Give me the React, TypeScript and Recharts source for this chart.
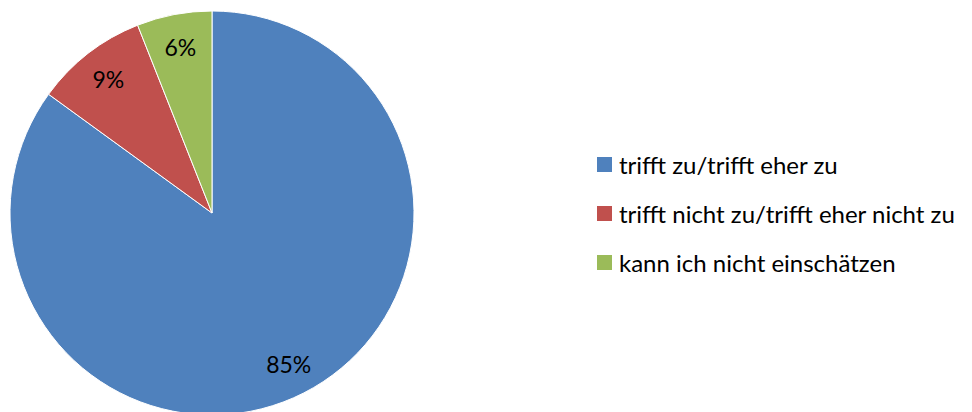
import React from "react";
import { PieChart, Pie, Cell, Legend } from "recharts";

const categories = [
  "trifft zu/trifft eher zu",
  "trifft nicht zu/trifft eher nicht zu",
  "kann ich nicht einschätzen",
];
const values = [85, 9, 6];
const colors = ["#4F81BD", "#C0504D", "#9BBB59"];

const data = categories.map((name, i) => ({ name, value: values[i] }));

const FONT = "Lato, 'Open Sans', sans-serif";
const RAD = Math.PI / 180;

const renderLabel = (props: any) => {
  const { cx, cy, midAngle, value } = props;
  const r = 169;
  const x = cx + r * Math.cos(-midAngle * RAD);
  const y = cy + r * Math.sin(-midAngle * RAD);
  return (
    <text
      x={x}
      y={y}
      fill="#000"
      textAnchor="middle"
      dominantBaseline="central"
      fontSize={23}
      fontFamily={FONT}
    >
      {`${value}%`}
    </text>
  );
};

const renderLegend = () => {
  return (
    <div style={{ fontFamily: FONT, fontSize: 24, color: "#000" }}>
      {categories.map((name, i) => (
        <div
          key={name}
          style={{ display: "flex", alignItems: "center", height: 49 }}
        >
          <span
            style={{
              display: "inline-block",
              width: 15,
              height: 15,
              background: colors[i],
              marginRight: 7,
            }}
          />
          <span>{name}</span>
        </div>
      ))}
    </div>
  );
};

export default function App() {
  return (
    <div style={{ position: "absolute", left: 0, top: 0, background: "#fff" }}>
      <PieChart width={972} height={412} margin={{ top: 0, right: 0, bottom: 0, left: 0 }}>
        <Pie
          data={data}
          dataKey="value"
          nameKey="name"
          cx={212}
          cy={213}
          outerRadius={202}
          startAngle={90}
          endAngle={-270}
          stroke="#fff"
          strokeWidth={1}
          label={renderLabel}
          labelLine={false}
          isAnimationActive={false}
        >
          {data.map((d, i) => (
            <Cell key={d.name} fill={colors[i]} />
          ))}
        </Pie>
        <Legend
          content={renderLegend}
          layout="vertical"
          wrapperStyle={{ left: 597, top: 140, width: 375 }}
        />
      </PieChart>
    </div>
  );
}
